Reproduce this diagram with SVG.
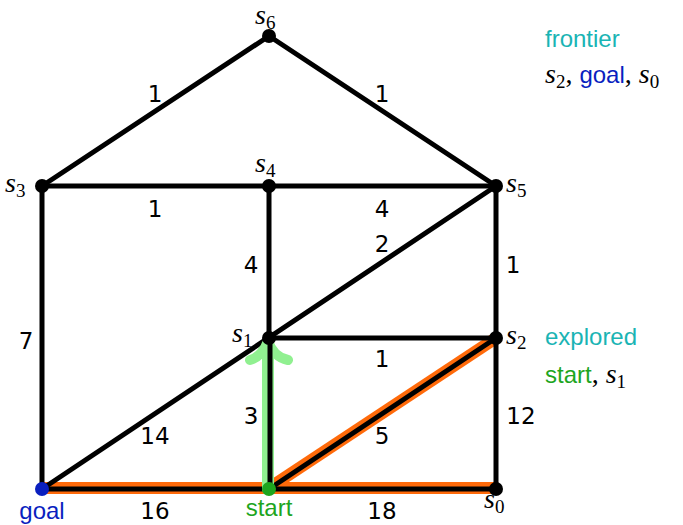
<svg xmlns="http://www.w3.org/2000/svg" width="683" height="525" viewBox="0 0 683 525">
<style>
.e{stroke:#000;stroke-width:5;fill:none;stroke-linecap:round}
.hl{stroke:#ff6a0a;stroke-width:12;fill:none}
.n{fill:#000}
.w{font-family:"DejaVu Sans",sans-serif;font-size:23px;fill:#000;text-anchor:middle}
.m{font-family:"Liberation Serif",serif;font-style:italic;font-size:28px;fill:#000}
.sub{font-family:"Liberation Serif",serif;font-style:normal;font-size:19px}
.t{font-family:"Liberation Sans",sans-serif;font-size:24px}
</style>
<rect width="683" height="525" fill="#fff"/>
<g id="connectors">
<line class="hl" x1="42" y1="488" x2="496" y2="488"/>
<line class="hl" x1="269" y1="488" x2="496" y2="338"/>
<line class="e" x1="42" y1="186" x2="269" y2="36"/>
<line class="e" x1="269" y1="36" x2="496" y2="186"/>
<line class="e" x1="42" y1="186" x2="496" y2="186"/>
<line class="e" x1="42" y1="186" x2="42" y2="489"/>
<line class="e" x1="269" y1="186" x2="269" y2="489"/>
<line class="e" x1="496" y1="186" x2="496" y2="489"/>
<line class="e" x1="42" y1="489" x2="496" y2="186"/>
<line class="e" x1="269" y1="338" x2="496" y2="338"/>
<line class="e" x1="42" y1="489" x2="496" y2="489"/>
<line class="e" x1="269" y1="489" x2="496" y2="338"/>
<g stroke="#90f090" stroke-width="12" fill="none" stroke-linecap="round" stroke-linejoin="round">
<line x1="268" y1="489" x2="268" y2="346"/>
<path d="M250 360 C258 358 265 350 268 341 C271 350 278 358 288 360" stroke-width="10"/>
</g>
<line class="e" x1="270" y1="338" x2="270" y2="489"/>
</g>
<g id="s6"><circle class="n" cx="269" cy="36" r="7"/><text class="m" x="255" y="24">s<tspan class="sub" dy="5">6</tspan></text></g>
<g id="s3"><circle class="n" cx="42" cy="186" r="7"/><text class="m" x="5" y="192">s<tspan class="sub" dy="5">3</tspan></text></g>
<g id="s4"><circle class="n" cx="269" cy="186" r="7"/><text class="m" x="255" y="172">s<tspan class="sub" dy="5">4</tspan></text></g>
<g id="s5"><circle class="n" cx="496" cy="186" r="7"/><text class="m" x="506" y="192">s<tspan class="sub" dy="5">5</tspan></text></g>
<g id="s1"><circle class="n" cx="269" cy="338" r="7"/><text class="m" x="232" y="342">s<tspan class="sub" dy="5">1</tspan></text></g>
<g id="s2"><circle class="n" cx="496" cy="338" r="7"/><text class="m" x="506" y="344">s<tspan class="sub" dy="5">2</tspan></text></g>
<g id="s0"><circle class="n" cx="496" cy="489" r="7"/><text class="m" x="484" y="508">s<tspan class="sub" dy="5">0</tspan></text></g>
<g id="goal"><circle cx="42" cy="489" r="7" fill="#0a1fbf"/><text class="t" x="42" y="519" fill="#0a1fbf" text-anchor="middle">goal</text></g>
<g id="start"><circle cx="269" cy="489" r="7" fill="#1ea51e"/><text class="t" x="269" y="516" fill="#1ea51e" text-anchor="middle">start</text></g>
<g id="weights">
<text class="w" x="155" y="102">1</text>
<text class="w" x="382" y="102">1</text>
<text class="w" x="155" y="217">1</text>
<text class="w" x="382" y="217">4</text>
<text class="w" x="382" y="252">2</text>
<text class="w" x="251" y="273">4</text>
<text class="w" x="513" y="273">1</text>
<text class="w" x="26" y="349">7</text>
<text class="w" x="382" y="367">1</text>
<text class="w" x="155" y="444">14</text>
<text class="w" x="251" y="424">3</text>
<text class="w" x="382" y="444">5</text>
<text class="w" x="521" y="424">12</text>
<text class="w" x="155" y="519">16</text>
<text class="w" x="382" y="519">18</text>
</g>
<g id="frontier">
<text class="t" x="545" y="47" fill="#1ab4b4">frontier</text>
<text class="m" x="545" y="83">s<tspan class="sub" dy="5">2</tspan><tspan dy="-5" font-style="normal">, </tspan><tspan class="t" font-style="normal" fill="#0a1fbf">goal</tspan><tspan font-style="normal">, </tspan>s<tspan class="sub" dy="5">0</tspan></text>
</g>
<g id="explored">
<text class="t" x="545" y="345" fill="#1ab4b4">explored</text>
<text class="m" x="545" y="383"><tspan class="t" font-style="normal" fill="#1ea51e">start</tspan><tspan font-style="normal">, </tspan>s<tspan class="sub" dy="5">1</tspan></text>
</g>
</svg>
